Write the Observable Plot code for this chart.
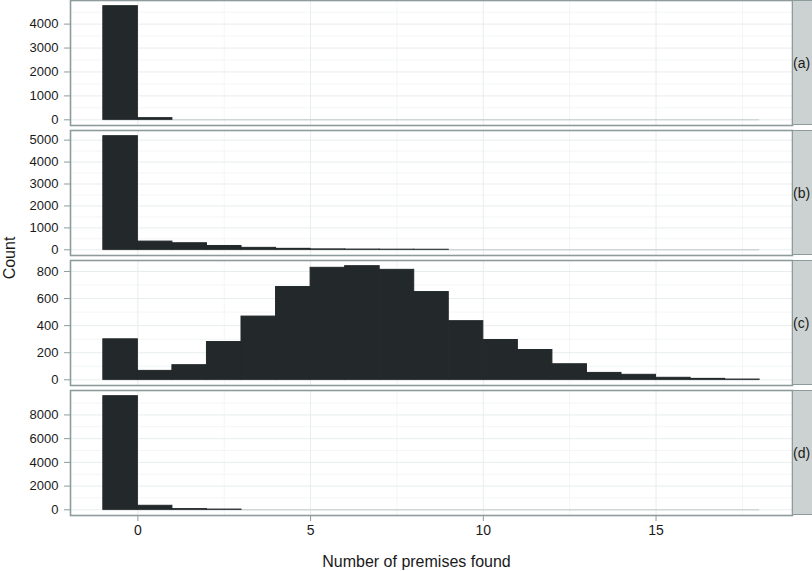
<!DOCTYPE html>
<html>
<head>
<meta charset="utf-8">
<script src="https://cdn.jsdelivr.net/npm/d3@7"></script>
<script src="https://cdn.jsdelivr.net/npm/@observablehq/plot@0.6"></script>
<style>
  body { margin: 0; background: #fff; font-family: "Liberation Sans", Arial, sans-serif; }
  #chart { position: relative; width: 812px; height: 571px; overflow: hidden; background: #fff; }
  .panel { position: absolute; left: 0; }
  .strip { position: absolute; left: 792px; width: 21px; box-sizing: border-box;
           background: #cbd2d1; border: 1.5px solid #8d9b9b; font-size: 14px; color: #1a1a1a;
           display: flex; align-items: center; justify-content: flex-start; padding-left: 0px;
           white-space: nowrap; overflow: visible; }
  .ylab { position: absolute; left: 10px; top: 258px; transform: translate(-50%, -50%) rotate(-90deg);
          font-size: 16px; color: #1a1a1a; white-space: nowrap; }
</style>
</head>
<body>
<div id="chart"></div>
<script>
// ---- data ----
const binStarts = [-1, 0, 1, 2, 3, 4, 5, 6, 7, 8, 9, 10, 11, 12, 13, 14, 15, 16, 17];
const binWidth = 1;
const panelLabels = ["(a)", "(b)", "(c)", "(d)"];
const countsA = [4750, 70, 0, 0, 0, 0, 0, 0, 0, 0, 0, 0, 0, 0, 0, 0, 0, 0, 0];
const countsB = [5180, 375, 300, 175, 90, 45, 20, 12, 6, 3, 0, 0, 0, 0, 0, 0, 0, 0, 0];
const countsC = [299, 66, 108, 279, 467, 685, 827, 839, 812, 648, 433, 294, 220, 115, 51, 37, 15, 7, 2];
const countsD = [9580, 340, 60, 20, 0, 0, 0, 0, 0, 0, 0, 0, 0, 0, 0, 0, 0, 0, 0];
const yTicksA = [0, 1000, 2000, 3000, 4000];
const yTicksB = [0, 1000, 2000, 3000, 4000, 5000];
const yTicksC = [0, 200, 400, 600, 800];
const yTicksD = [0, 2000, 4000, 6000, 8000];
const xTicks = [0, 5, 10, 15];
const xLabel = "Number of premises found";
const yLabel = "Count";

// ---- layout ----
const W = 812, PANEL_H = 125, STEP = 130;
const ML = 70, MR = 20;
const FONT = "'Liberation Sans', Arial, sans-serif";
const DARK = "#23292b", BORDER = "#8d9b9b", GRID = "#e8eded", GRID_MINOR = "#f3f6f6";

function minorTicks(ticks, lo, hi) {
  const step = ticks[1] - ticks[0];
  const out = [];
  for (let t = ticks[0] - step / 2; t <= hi; t += step) if (t >= lo) out.push(t);
  return out;
}

const xMin = binStarts[0], xMax = binStarts[binStarts.length - 1] + binWidth;
const xPad = (xMax - xMin) * 0.05;
const xDomain = [xMin - xPad, xMax + xPad];

function panel(counts, yTicks, isLast) {
  const rows = binStarts.map((b, i) => ({x1: b, x2: b + binWidth, count: counts[i]}));
  const max = d3.max(counts);
  const pad = max * 0.05;
  const yDomain = [-pad, max + pad];
  return Plot.plot({
    width: W,
    height: PANEL_H + 2 + (isLast ? 55 : 0),
    marginLeft: ML, marginRight: MR, marginTop: 1, marginBottom: 1 + (isLast ? 55 : 0),
    style: {fontFamily: FONT, fontSize: "13px", color: "#1a1a1a", background: "transparent", overflow: "visible"},
    x: {domain: xDomain, axis: isLast ? undefined : null},
    y: {domain: yDomain},
    marks: [
      Plot.ruleY(minorTicks(yTicks, yDomain[0], yDomain[1]), {stroke: GRID_MINOR}),
      Plot.ruleX(minorTicks(xTicks, xDomain[0], xDomain[1]), {stroke: GRID_MINOR}),
      Plot.gridY(yTicks, {stroke: GRID, strokeOpacity: 1}),
      Plot.gridX(xTicks, {stroke: GRID, strokeOpacity: 1}),
      Plot.ruleY([0], {x1: xMin, x2: xMax, stroke: "#c2caca", strokeWidth: 1}),
      Plot.rectY(rows, {x1: "x1", x2: "x2", y: "count", fill: DARK,
                        stroke: d => d.count > 0 ? DARK : "none", strokeWidth: 1}),
      Plot.frame({stroke: BORDER, strokeWidth: 1.6}),
      Plot.axisY(yTicks, {tickSize: 6, tickPadding: 6, stroke: BORDER, fontSize: 13, label: null, tickFormat: d => String(d)}),
      isLast ? Plot.axisX(xTicks, {tickSize: 6, tickPadding: 4, stroke: BORDER, fontSize: 14, label: null}) : null,
      isLast ? Plot.text([xLabel], {frameAnchor: "bottom", lineAnchor: "middle", dy: 46, dx: -15, fontSize: 16, fill: "#1a1a1a"}) : null
    ]
  });
}

const chart = document.getElementById("chart");
const all = [[countsA, yTicksA], [countsB, yTicksB], [countsC, yTicksC], [countsD, yTicksD]];
all.forEach(([c, t], i) => {
  const svg = panel(c, t, i === all.length - 1);
  svg.classList.add("panel");
  svg.style.top = (i * STEP - 1) + "px";
  chart.appendChild(svg);
  const strip = document.createElement("div");
  strip.className = "strip";
  strip.style.top = (i * STEP) + "px";
  strip.style.height = PANEL_H + "px";
  strip.textContent = panelLabels[i];
  chart.appendChild(strip);
});
const yl = document.createElement("div");
yl.className = "ylab";
yl.textContent = yLabel;
chart.appendChild(yl);
</script>
</body>
</html>
